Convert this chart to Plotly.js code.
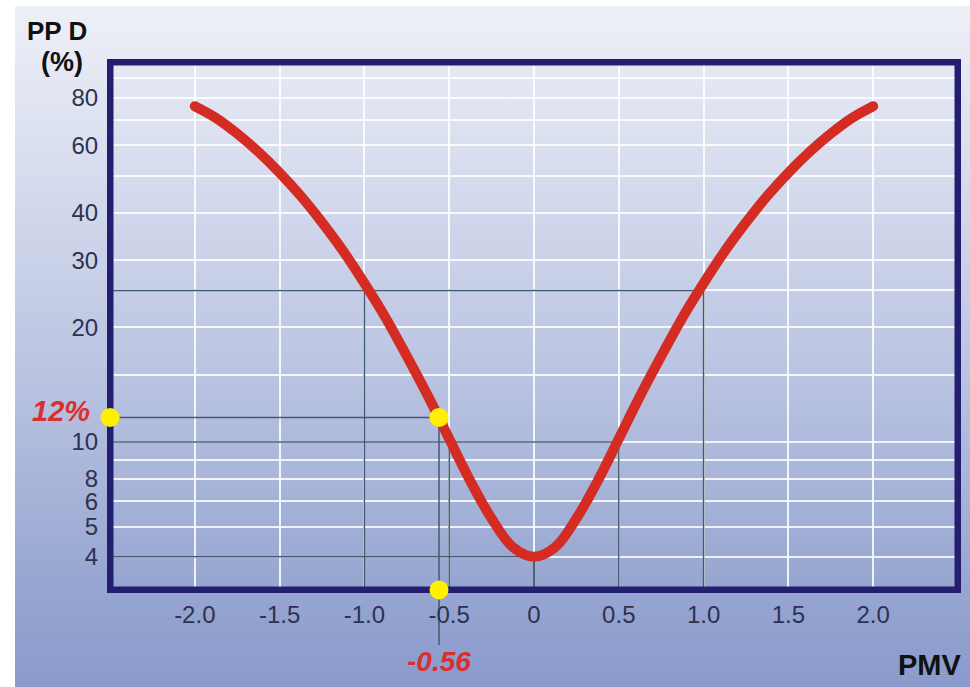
<!DOCTYPE html>
<html>
<head>
<meta charset="utf-8">
<script src="https://cdn.plot.ly/plotly-3.0.1.min.js"></script>
<style>
  html, body { margin: 0; padding: 0; background: #ffffff; }
  #wrap { position: relative; width: 970px; height: 687px; background: #ffffff; overflow: hidden; }
  #bg { position: absolute; left: 15px; top: 6px; right: 0; bottom: 0;
        background: linear-gradient(to bottom, #eef0f7 0%, #d6dcee 25%, #b9c3e1 55%, #97a6d1 85%, #8a9acb 100%); }
  #chart { position: absolute; left: 0; top: 0; width: 970px; height: 687px; }
</style>
</head>
<body>
<div id="wrap"><div id="bg"></div><div id="chart"></div></div>
<script>
// ---- Data ----
const pmv = [-2.0, -1.875, -1.75, -1.625, -1.5, -1.375, -1.25, -1.125, -1.0, -0.875, -0.75, -0.625,
             -0.5, -0.375, -0.25, -0.125, 0, 0.125, 0.25, 0.375, 0.5, 0.625, 0.75, 0.875,
             1.0, 1.125, 1.25, 1.375, 1.5, 1.625, 1.75, 1.875, 2.0];
const ppd = [76, 70.8, 64.4, 57.7, 50.9, 44.2, 37.7, 31.7, 26.1, 21.2, 16.8, 13.2,
             10.2, 7.9, 6.3, 5.3, 5.0, 5.3, 6.3, 7.9, 10.2, 13.2, 16.8, 21.2,
             26.1, 31.7, 37.7, 44.2, 50.9, 57.7, 64.4, 70.8, 76];

// reference (guide) lines: PPD level and the symmetric PMV where they meet the curve
const refPPD = [25, 10, 5];
const refPMV = [1.0, 0.5, 0];

// highlighted point (drawn position on the axis, and its printed labels)
const hlPMV = -0.56;
const hlPPD = 11.6;
const hlPMVLabel = "-0.56";
const hlPPDLabel = "12%";

// axis ticks
const xTickVals = [-2.0, -1.5, -1.0, -0.5, 0, 0.5, 1.0, 1.5, 2.0];
const xTickText = ["-2.0", "-1.5", "-1.0", "-0.5", "0", "0.5", "1.0", "1.5", "2.0"];
const yTickVals = [5, 6, 7, 8, 9, 10, 15, 20, 25, 30, 40, 50, 60, 70, 80, 90];
const yTickText = ["4", "5", "6", "8", "", "10", "", "20", "", "30", "40", "", "60", "", "80", ""];

// axis ranges
const xRange = [-2.5, 2.5];
const yRangeLog = [0.612, 1.997];
const yMin = Math.pow(10, yRangeLog[0]), yMax = Math.pow(10, yRangeLog[1]);
const xAxisLeft = xRange[0] + 0.0005;            // PMV at the left frame line
const yAxisBottom = Math.pow(10, yRangeLog[0] + 0.0003);  // PPD at the bottom frame line

// ---- Traces ----
const guideColor = '#415c6c';
const frameColor = '#231e70';
const traces = [];

for (let i = 0; i < refPPD.length; i++) {
  const L = refPPD[i], p = refPMV[i];
  traces.push({
    x: [xRange[0], p, null, -p, -p, null, p, p],
    y: [L, L, null, L, 3, null, L, 3],
    mode: 'lines', line: {color: guideColor, width: 1.5},
    hoverinfo: 'skip', showlegend: false
  });
}
// highlight guide lines
traces.push({
  x: [xRange[0], hlPMV, null, hlPMV, hlPMV],
  y: [hlPPD, hlPPD, null, hlPPD, 3],
  mode: 'lines', line: {color: guideColor, width: 1.5},
  hoverinfo: 'skip', showlegend: false
});
// inner half of the thick frame (outer half = axis lines)
traces.push({
  x: [xRange[0], xRange[1], xRange[1], xRange[0], xRange[0]],
  y: [yMin, yMin, yMax, yMax, yMin],
  mode: 'lines', line: {color: frameColor, width: 7},
  hoverinfo: 'skip', showlegend: false
});

// curve
traces.push({
  x: pmv, y: ppd, mode: 'lines',
  line: {color: '#d42b22', width: 10, shape: 'spline', smoothing: 1},
  hoverinfo: 'skip', showlegend: false
});
// round end caps
traces.push({
  x: [pmv[0], pmv[pmv.length - 1]], y: [ppd[0], ppd[ppd.length - 1]],
  mode: 'markers', marker: {color: '#d42b22', size: 10},
  hoverinfo: 'skip', showlegend: false
});
// yellow markers
traces.push({
  x: [xAxisLeft, hlPMV, hlPMV], y: [hlPPD, hlPPD, yAxisBottom],
  mode: 'markers', marker: {color: '#fff000', size: 19, line: {width: 0}},
  cliponaxis: false, hoverinfo: 'skip', showlegend: false
});

const M = {l: 110, r: 12, t: 62, b: 97};
const W = 970, H = 687;
const pw = W - M.l - M.r, ph = H - M.t - M.b;
const px2x = px => (px - M.l) / pw;
const py2y = py => (H - M.b - py) / ph;

const FAM = 'Liberation Sans, Arial, sans-serif';
const tickFont = {family: FAM, size: 24, color: '#2e3150'};

const layout = {
  width: W, height: H,
  margin: M,
  paper_bgcolor: 'rgba(0,0,0,0)',
  plot_bgcolor: 'rgba(0,0,0,0)',
  showlegend: false,
  xaxis: {
    range: xRange, tickmode: 'array', tickvals: xTickVals, ticktext: xTickText,
    showgrid: true, gridcolor: 'rgba(255,255,255,0.85)', gridwidth: 2,
    zeroline: false, showline: true, linecolor: frameColor, linewidth: 3, mirror: true,
    ticks: '', ticklabelstandoff: 1, layer: 'below traces',
    tickfont: tickFont
  },
  yaxis: {
    type: 'log', range: yRangeLog, tickmode: 'array', tickvals: yTickVals, ticktext: yTickText,
    showgrid: true, gridcolor: 'rgba(255,255,255,0.85)', gridwidth: 2,
    zeroline: false, showline: true, linecolor: frameColor, linewidth: 3, mirror: true,
    ticks: '', ticklabelstandoff: 4, layer: 'below traces',
    tickfont: tickFont
  },
  shapes: [
    {type: 'line', xref: 'x', yref: 'paper', x0: hlPMV, x1: hlPMV, y0: 0, y1: py2y(645),
     line: {color: guideColor, width: 1.5}, layer: 'below'}
  ],
  annotations: [
    {text: '<b>PP D</b>', xref: 'paper', yref: 'paper', x: px2x(57), y: py2y(31),
     showarrow: false, font: {family: FAM, size: 26, color: '#111111'}, xanchor: 'center', yanchor: 'middle'},
    {text: '<b>(%)</b>', xref: 'paper', yref: 'paper', x: px2x(62), y: py2y(62),
     showarrow: false, font: {family: FAM, size: 27, color: '#111111'}, xanchor: 'center', yanchor: 'middle'},
    {text: '<b>PMV</b>', xref: 'paper', yref: 'paper', x: px2x(930), y: py2y(665),
     showarrow: false, font: {family: FAM, size: 29, color: '#111111'}, xanchor: 'center', yanchor: 'middle'},
    {text: '<b><i>' + hlPPDLabel + '</i></b>', xref: 'paper', yref: 'paper', x: px2x(92), y: py2y(411),
     showarrow: false, font: {family: FAM, size: 29, color: '#d8302c'}, xanchor: 'right', yanchor: 'middle'},
    {text: '<b><i>' + hlPMVLabel + '</i></b>', xref: 'x', yref: 'paper', x: hlPMV, y: py2y(662),
     showarrow: false, font: {family: FAM, size: 28, color: '#d8302c'}, xanchor: 'center', yanchor: 'middle'}
  ]
};

Plotly.newPlot('chart', traces, layout, {staticPlot: true, displayModeBar: false});
</script>
</body>
</html>
